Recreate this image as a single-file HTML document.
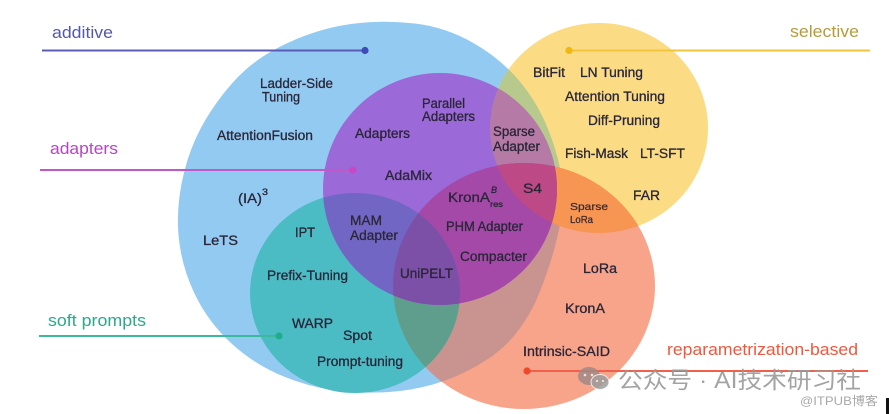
<!DOCTYPE html>
<html><head><meta charset="utf-8"><style>
html,body{margin:0;padding:0;background:#fff;}
svg{display:block;}
.l{font-family:"Liberation Sans",sans-serif;font-size:13.5px;fill:#2a2638;stroke:#2a2638;stroke-width:0.3px;}
.s{font-family:"Liberation Sans",sans-serif;font-size:10.5px;fill:#3a2a30;stroke:#3a2a30;stroke-width:0.25px;}
.o{font-family:"Liberation Sans",sans-serif;font-size:17px;}
</style></head><body>
<svg width="889" height="414" viewBox="0 0 889 414" xmlns="http://www.w3.org/2000/svg">
<defs>
<path id="pB" d="M415,23.5 Q445,27 472.5,42.5 Q500,58 519,80.5 Q538,103 549,131.5 Q560,160 562,182.5 Q564,205 560,225 Q556,245 550,263.5 Q544,282 537,298.5 Q530,315 517.5,331.5 Q505,348 486.5,360 Q468,372 446.5,380 Q425,388 400,391 Q375,394 345,391.5 Q315,389 285,377 Q255,365 231.5,343.5 Q208,322 194.5,293.5 Q181,265 178.5,235 Q176,205 184,172.5 Q192,140 210,112.5 Q228,85 247,68.5 Q266,52 295.5,39.5 Q325,27 355,23.5 Q385,20 415,23.5 Z"/>
<ellipse id="eP" cx="440" cy="189" rx="117" ry="116"/>
<ellipse id="eT" cx="355" cy="293" rx="105" ry="100"/>
<ellipse id="eR" cx="524" cy="286" rx="131" ry="123"/>
<ellipse id="eY" cx="599" cy="128" rx="109" ry="105"/>
<clipPath id="cB"><use href="#pB"/></clipPath>
<clipPath id="cP"><use href="#eP"/></clipPath>
<clipPath id="cT"><use href="#eT"/></clipPath>
<clipPath id="cR"><use href="#eR"/></clipPath>
<clipPath id="cY"><use href="#eY"/></clipPath>
</defs>

<!-- base shapes -->
<use href="#pB" fill="#93caf2"/>
<use href="#eY" fill="#fbdc85"/>
<use href="#eR" fill="#f8a48b"/>
<!-- B∩Y -->
<use href="#eY" fill="#b8c98e" clip-path="url(#cB)"/>
<!-- B∩R -->
<use href="#eR" fill="#c9948f" clip-path="url(#cB)"/>
<!-- Y∩R -->
<use href="#eR" fill="#f79553" clip-path="url(#cY)"/>
<!-- T -->
<use href="#eT" fill="#4cbcc4"/>
<!-- T∩R -->
<use href="#eR" fill="#5f9d8d" clip-path="url(#cT)"/>
<!-- P -->
<use href="#eP" fill="#9b69d8"/>
<!-- P∩Y -->
<use href="#eY" fill="#b57aa6" clip-path="url(#cP)"/>
<!-- P∩R -->
<use href="#eR" fill="#a549a9" clip-path="url(#cP)"/>
<!-- P∩R∩Y -->
<g clip-path="url(#cP)"><use href="#eY" fill="#bd4a86" clip-path="url(#cR)"/></g>
<!-- P∩T -->
<use href="#eT" fill="#7266c4" clip-path="url(#cP)"/>
<!-- P∩T∩R -->
<g clip-path="url(#cP)"><use href="#eR" fill="#7d50a8" clip-path="url(#cT)"/></g>

<!-- category lines -->
<line x1="42" y1="50.5" x2="365" y2="50.5" stroke="#5c5cb6" stroke-width="2"/>
<circle cx="365" cy="50.5" r="3.6" fill="#3d4cb4"/>
<text class="o" x="52" y="38" fill="#5458aa" textLength="61" lengthAdjust="spacingAndGlyphs">additive</text>

<line x1="40" y1="170" x2="353" y2="170" stroke="#c258c8" stroke-width="2"/>
<circle cx="353" cy="170" r="3.6" fill="#c648c6"/>
<text class="o" x="50" y="154" fill="#b545c4" textLength="68" lengthAdjust="spacingAndGlyphs">adapters</text>

<line x1="39" y1="336" x2="279" y2="336" stroke="#3cb89c" stroke-width="2"/>
<circle cx="279" cy="336" r="3.6" fill="#1fae8c"/>
<text class="o" x="48" y="326" fill="#2aa98b" textLength="98" lengthAdjust="spacingAndGlyphs">soft prompts</text>

<line x1="569" y1="50.5" x2="870" y2="50.5" stroke="#f2c43a" stroke-width="2"/>
<circle cx="569" cy="50.5" r="3.6" fill="#f0b810"/>
<text class="o" x="790" y="37" fill="#b69b3c" textLength="69" lengthAdjust="spacingAndGlyphs">selective</text>

<line x1="527" y1="371" x2="868" y2="371" stroke="#f0604a" stroke-width="2"/>
<circle cx="527" cy="371" r="3.6" fill="#f0482a"/>
<text class="o" x="667" y="355" fill="#f0583e" textLength="191" lengthAdjust="spacingAndGlyphs">reparametrization-based</text>

<!-- additive labels -->
<text class="l" x="260" y="88" textLength="73" lengthAdjust="spacingAndGlyphs">Ladder-Side</text>
<text class="l" x="262" y="101.5" textLength="38" lengthAdjust="spacingAndGlyphs">Tuning</text>
<text class="l" x="217" y="140" textLength="96" lengthAdjust="spacingAndGlyphs">AttentionFusion</text>
<text class="l" x="238" y="203" textLength="24" lengthAdjust="spacingAndGlyphs">(IA)</text>
<text class="l" x="262" y="195" style="font-size:9.5px" textLength="6" lengthAdjust="spacingAndGlyphs">3</text>
<text class="l" x="203" y="245" textLength="35" lengthAdjust="spacingAndGlyphs">LeTS</text>

<!-- adapters -->
<text class="l" x="355" y="138" textLength="55" lengthAdjust="spacingAndGlyphs">Adapters</text>
<text class="l" x="422" y="108" textLength="43" lengthAdjust="spacingAndGlyphs">Parallel</text>
<text class="l" x="422" y="121" textLength="53" lengthAdjust="spacingAndGlyphs">Adapters</text>
<text class="l" x="493" y="136" textLength="42" lengthAdjust="spacingAndGlyphs">Sparse</text>
<text class="l" x="493" y="151" textLength="47" lengthAdjust="spacingAndGlyphs">Adapter</text>
<text class="l" x="385" y="180" textLength="47" lengthAdjust="spacingAndGlyphs">AdaMix</text>
<text class="l" x="350" y="225" textLength="32" lengthAdjust="spacingAndGlyphs">MAM</text>
<text class="l" x="350" y="240" textLength="48" lengthAdjust="spacingAndGlyphs">Adapter</text>
<text class="l" x="448" y="202" textLength="42" lengthAdjust="spacingAndGlyphs">KronA</text>
<text class="l" x="491" y="193" style="font-size:9px;font-style:italic" textLength="6" lengthAdjust="spacingAndGlyphs">B</text>
<text class="l" x="490" y="207" style="font-size:8px" textLength="13" lengthAdjust="spacingAndGlyphs">res</text>
<text class="l" x="523" y="193" textLength="19" lengthAdjust="spacingAndGlyphs">S4</text>
<text class="l" x="446" y="231" textLength="77" lengthAdjust="spacingAndGlyphs">PHM Adapter</text>
<text class="l" x="460" y="261" textLength="67" lengthAdjust="spacingAndGlyphs">Compacter</text>
<text class="l" x="400" y="278" textLength="53" lengthAdjust="spacingAndGlyphs">UniPELT</text>

<!-- soft prompts -->
<text class="l" x="295" y="237" textLength="20" lengthAdjust="spacingAndGlyphs">IPT</text>
<text class="l" x="267" y="280" textLength="81" lengthAdjust="spacingAndGlyphs">Prefix-Tuning</text>
<text class="l" x="292" y="328" textLength="41" lengthAdjust="spacingAndGlyphs">WARP</text>
<text class="l" x="343" y="340" textLength="29" lengthAdjust="spacingAndGlyphs">Spot</text>
<text class="l" x="317" y="366" textLength="86" lengthAdjust="spacingAndGlyphs">Prompt-tuning</text>

<!-- selective -->
<text class="l" x="533" y="77" textLength="32" lengthAdjust="spacingAndGlyphs">BitFit</text>
<text class="l" x="580" y="77" textLength="63" lengthAdjust="spacingAndGlyphs">LN Tuning</text>
<text class="l" x="565" y="101" textLength="100" lengthAdjust="spacingAndGlyphs">Attention Tuning</text>
<text class="l" x="588" y="125" textLength="72" lengthAdjust="spacingAndGlyphs">Diff-Pruning</text>
<text class="l" x="565" y="158" textLength="63" lengthAdjust="spacingAndGlyphs">Fish-Mask</text>
<text class="l" x="640" y="158" textLength="45" lengthAdjust="spacingAndGlyphs">LT-SFT</text>
<text class="l" x="633" y="200" textLength="27" lengthAdjust="spacingAndGlyphs">FAR</text>
<text class="s" x="570" y="210" textLength="38" lengthAdjust="spacingAndGlyphs">Sparse</text>
<text class="s" x="570" y="223" textLength="23" lengthAdjust="spacingAndGlyphs">LoRa</text>

<!-- reparametrization -->
<text class="l" x="583" y="273" textLength="34" lengthAdjust="spacingAndGlyphs">LoRa</text>
<text class="l" x="565" y="313" textLength="40" lengthAdjust="spacingAndGlyphs">KronA</text>
<text class="l" x="523" y="356" textLength="87" lengthAdjust="spacingAndGlyphs">Intrinsic-SAID</text>

<!-- watermark -->
<g opacity="0.85">
<ellipse cx="589" cy="376" rx="11" ry="9" fill="#a08a84"/>
<ellipse cx="600" cy="382" rx="9" ry="7.5" fill="#9c9c9c" stroke="#f4f4f4" stroke-width="1"/>
<circle cx="585" cy="375" r="1.3" fill="#eee"/>
<circle cx="592" cy="375" r="1.3" fill="#eee"/>
<circle cx="597" cy="381" r="1.1" fill="#eee"/>
<circle cx="603" cy="381" r="1.1" fill="#eee"/>
</g>
<text x="618" y="388" style="font-family:'Liberation Sans','Noto Sans CJK SC',sans-serif;font-size:23px" fill="#9a9a9a" opacity="0.9" textLength="243" lengthAdjust="spacingAndGlyphs">公众号 · AI技术研习社</text>
<text x="800" y="405" style="font-family:'Liberation Sans','Noto Sans CJK SC',sans-serif;font-size:12px" fill="#a8a8a8" textLength="78" lengthAdjust="spacingAndGlyphs">@ITPUB博客</text>
<rect x="886" y="398" width="3" height="16" fill="#111"/>
</svg>
</body></html>
